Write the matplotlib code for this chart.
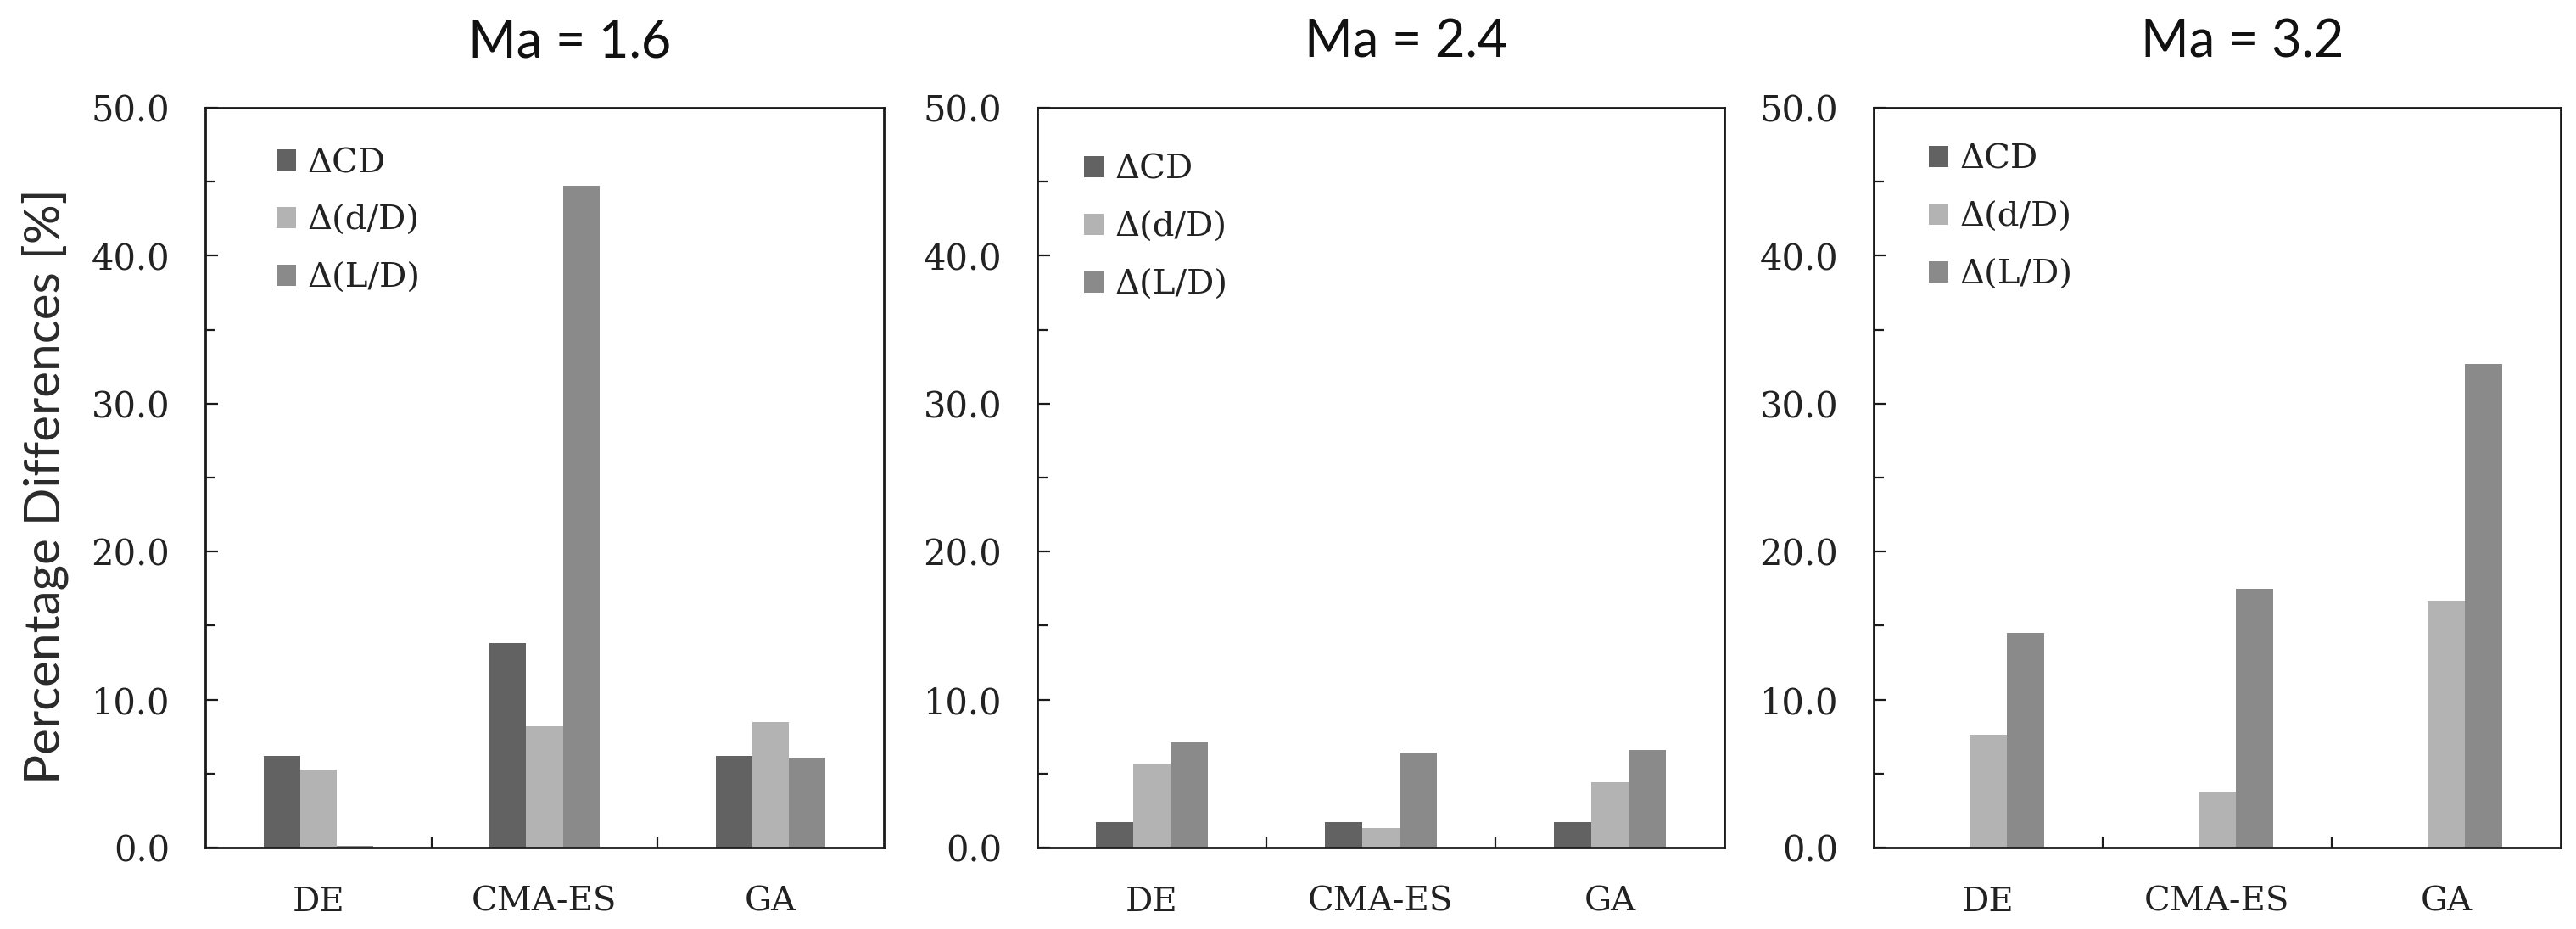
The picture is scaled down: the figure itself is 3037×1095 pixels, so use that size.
import matplotlib
matplotlib.use("Agg")
import matplotlib.pyplot as plt
import numpy as np
from matplotlib.ticker import MultipleLocator, FormatStrFormatter, FixedLocator

# ---- data ----
categories = ["DE", "CMA-ES", "GA"]
series_names = ["\u0394CD", "\u0394(d/D)", "\u0394(L/D)"]
panel_titles = ["Ma = 1.6", "Ma = 2.4", "Ma = 3.2"]

ma16_cd = [6.2, 13.8, 6.2]
ma16_dd = [5.3, 8.2, 8.5]
ma16_ld = [0.1, 44.7, 6.1]

ma24_cd = [1.7, 1.7, 1.7]
ma24_dd = [5.7, 1.3, 4.4]
ma24_ld = [7.1, 6.4, 6.6]

ma32_cd = [0.0, 0.0, 0.0]
ma32_dd = [7.6, 3.8, 16.7]
ma32_ld = [14.5, 17.5, 32.7]

panels = [
    (ma16_cd, ma16_dd, ma16_ld),
    (ma24_cd, ma24_dd, ma24_ld),
    (ma32_cd, ma32_dd, ma32_ld),
]

colors = ["#626262", "#b3b3b3", "#8a8a8a"]
serif = "DejaVu Serif"
sans = ["Lato", "DejaVu Sans"]

W, H = 3037, 1095
fig = plt.figure(figsize=(W / 100, H / 100), dpi=100)

# axes boxes in pixels (left, right)
boxes = [(242, 1042), (1223, 2033), (2209, 3019)]
top_px, bot_px = 127, 999
legend_pos = [(0.105, 0.946), (0.068, 0.937), (0.080, 0.951)]

bw = 0.162
x = np.arange(len(categories))
for i, ((l, r), data) in enumerate(zip(boxes, panels)):
    ax = fig.add_axes([l / W, 1 - bot_px / H, (r - l) / W, (bot_px - top_px) / H])
    for k, (vals, c, name) in enumerate(zip(data, colors, series_names)):
        ax.bar(x + (k - 1) * bw, vals, width=bw, color=c, label=name, linewidth=0)
    ax.set_xlim(-0.5, 2.5)
    ax.set_ylim(0, 50)
    ax.yaxis.set_major_locator(MultipleLocator(10))
    ax.yaxis.set_minor_locator(MultipleLocator(5))
    ax.yaxis.set_major_formatter(FormatStrFormatter("%.1f"))
    ax.set_xticks(x)
    ax.set_xticklabels(categories)
    ax.xaxis.set_minor_locator(FixedLocator([0.5, 1.5]))
    for s in ax.spines.values():
        s.set_linewidth(2.0)
        s.set_color("#1a1a1a")
    ax.tick_params(axis="y", which="major", direction="in", length=11, width=1.6,
                   color="#1a1a1a", pad=30, labelsize=30, labelcolor="#222222")
    ax.tick_params(axis="y", which="minor", direction="in", length=8.5, width=1.6,
                   color="#1a1a1a")
    ax.tick_params(axis="x", which="major", length=0, pad=33, labelsize=29,
                   labelcolor="#222222")
    ax.tick_params(axis="x", which="minor", direction="in", length=9.5, width=1.6,
                   color="#1a1a1a")
    for lab in ax.get_xticklabels() + ax.get_yticklabels():
        lab.set_fontfamily(serif)
    leg = ax.legend(loc="upper left", bbox_to_anchor=legend_pos[i], frameon=False,
                    borderpad=0, borderaxespad=0, handlelength=0.58, handleheight=0.58,
                    handletextpad=0.33, labelspacing=0.77,
                    prop={"family": serif, "size": 29})
    for t in leg.get_texts():
        t.set_color("#222222")
    cx = (l + r) / 2 + 30
    fig.text(cx / W, 1 - 50 / H, panel_titles[i], ha="center", va="center",
             fontsize=44, family=sans, color="#111111")

# y label: fit its length to the reference (~703 px, centred at y=573 px)
ylab = fig.text(53 / W, 1 - 573 / H, "Percentage Differences [%]", rotation=90,
                ha="center", va="center", fontsize=48, family=sans,
                color="#2a2a2a")
fig.canvas.draw()
ext = ylab.get_window_extent(renderer=fig.canvas.get_renderer())
ylab.set_fontsize(48 * 703.0 / ext.height)

fig.savefig("out.png", dpi=100, facecolor="white")
